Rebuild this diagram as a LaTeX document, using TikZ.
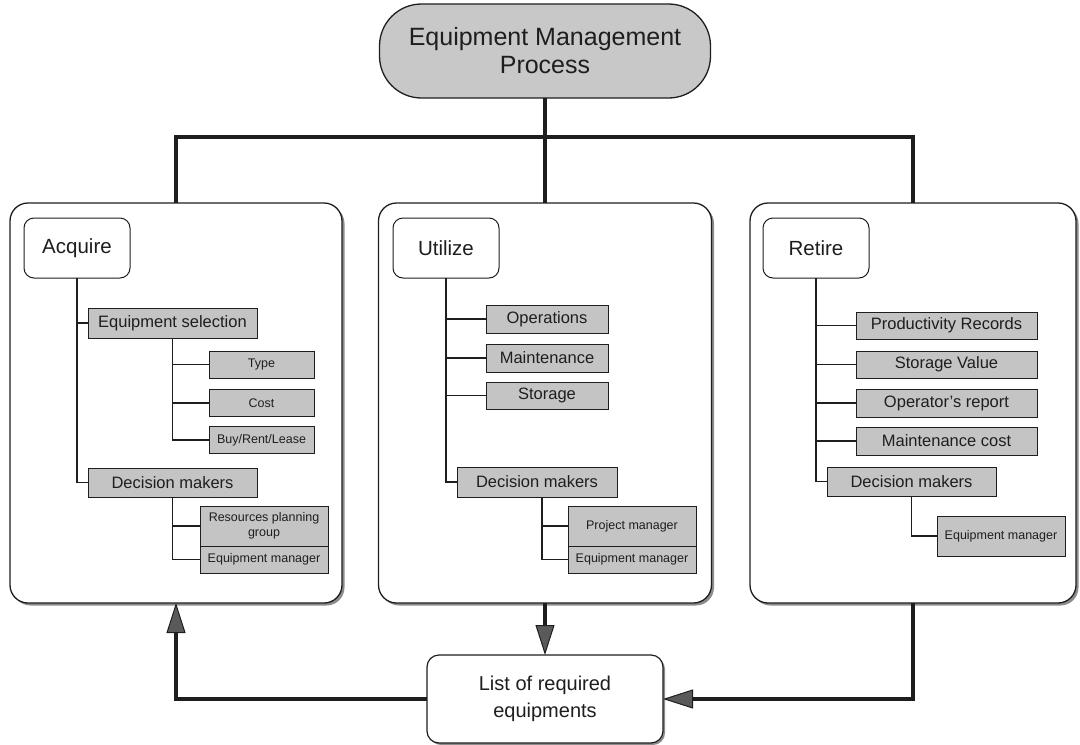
\documentclass[tikz,border=0pt]{standalone}
\usepackage{fontspec}
\setmainfont{Liberation Sans}
\usetikzlibrary{arrows.meta,shadows}
\definecolor{boxgray}{HTML}{C4C4C4}
\definecolor{pillgray}{HTML}{C8C8C8}
\definecolor{ink}{HTML}{1E1E1E}
\definecolor{shadowgray}{HTML}{8C8C8C}
\definecolor{tipfill}{HTML}{5A5A5A}

\begin{document}
\begin{tikzpicture}[x=1pt,y=-1pt,
  every node/.style={inner sep=0pt, outer sep=0pt, text=ink, align=center},
  size/.style 2 args={minimum width=#1, minimum height=#2},
  title/.style={draw=ink, line width=1.3pt, fill=pillgray, rounded corners=42pt,
    font=\fontsize{25}{28}\selectfont},
  stage/.style={draw=ink, line width=1.3pt, fill=white, rounded corners=18pt,
    general shadow={fill=shadowgray, shadow xshift=2.5pt, shadow yshift=-2.5pt}},
  head/.style={draw=ink, line width=1pt, fill=white, rounded corners=10pt,
    font=\fontsize{20.5}{24}\selectfont},
  result/.style={draw=ink, line width=1.2pt, fill=white, rounded corners=12pt,
    font=\fontsize{20}{27}\selectfont,
    general shadow={fill=shadowgray, shadow xshift=2pt, shadow yshift=-2pt}},
  item/.style={draw=ink, line width=1pt, fill=boxgray},
  bigitem/.style={item, font=\fontsize{16.5}{19}\selectfont},
  smallitem/.style={item, font=\fontsize{12.5}{14.5}\selectfont},
  link/.style={draw=ink, line width=1.5pt},
  trunk/.style={draw=ink, line width=4pt},
  flow/.style={trunk, -{Triangle[length=30pt, width=19pt, line width=1pt, fill=tipfill]}},
  ]
\useasboundingbox (0,0) rectangle (1080,745);

% top of the process
\node[title, size={331}{94}] (top) at (545,51) {Equipment Management\\Process};
\coordinate (hub) at (545,137);

% the three stages
\node[stage, size={332}{400}] (acq) at (176,403) {};
\node[stage, size={333}{400}] (uti) at (545,403) {};
\node[stage, size={326}{400}] (ret) at (913,403) {};

\draw[trunk] (top.south) -- (hub);
\draw[trunk] (acq.north) |- (hub) -| (ret.north);
\draw[trunk] (hub) -- (uti.north);

% Acquire
\node[head, size={106}{60}] (hA) at (77,248) {Acquire};
\node[bigitem, size={169}{30}] (esel) at (172.5,323) {Equipment selection};
\node[smallitem, size={105}{27}] (type) at (261.5,364.5) {Type};
\node[smallitem, size={105}{27}] (cost) at (261.5,403) {Cost};
\node[smallitem, size={105}{27}] (brl) at (261.5,440) {Buy/Rent/Lease};
\node[bigitem, size={169}{29}] (dmA) at (172.5,482.5) {Decision makers};
\node[smallitem, size={128}{40}] (rpg) at (264,526) {Resources planning\\group};
\node[smallitem, size={128}{27}] (emA) at (264,559.5) {Equipment manager};

\draw[link] (hA.south) |- (esel.west);
\draw[link] (hA.south) |- (dmA.west);
\draw[link] (esel.south) |- (type.west);
\draw[link] (esel.south) |- (cost.west);
\draw[link] (esel.south) |- (brl.west);
\draw[link] (dmA.south) |- (rpg.west);
\draw[link] (dmA.south) |- (emA.west);

% Utilize
\node[head, size={106}{60}] (hU) at (446,248) {Utilize};
\node[bigitem, size={122}{28}] (oper) at (547,319) {Operations};
\node[bigitem, size={122}{28}] (maint) at (547,358) {Maintenance};
\node[bigitem, size={122}{27}] (stor) at (547,395.5) {Storage};
\node[bigitem, size={160}{30}] (dmU) at (537,482) {Decision makers};
\node[smallitem, size={128}{40}] (pm) at (632,526) {Project manager};
\node[smallitem, size={128}{27}] (emU) at (632,559.5) {Equipment manager};

\draw[link] (hU.south) |- (oper.west);
\draw[link] (hU.south) |- (maint.west);
\draw[link] (hU.south) |- (stor.west);
\draw[link] (hU.south) |- (dmU.west);
\draw[link] ([xshift=5pt]dmU.south) |- (pm.west);
\draw[link] ([xshift=5pt]dmU.south) |- (emU.west);

% Retire
\node[head, size={106}{60}] (hR) at (816,248) {Retire};
\node[bigitem, size={181}{27}] (prod) at (946.5,325.5) {Productivity Records};
\node[bigitem, size={181}{27}] (sval) at (946.5,364.5) {Storage Value};
\node[bigitem, size={181}{28}] (orep) at (946.5,403) {Operator's report};
\node[bigitem, size={181}{28}] (mcost) at (946.5,441) {Maintenance cost};
\node[bigitem, size={169}{29}] (dmR) at (911.5,481.5) {Decision makers};
\node[smallitem, size={128}{40}] (emR) at (1001,536) {Equipment manager};

\draw[link] (hR.south) |- (prod.west);
\draw[link] (hR.south) |- (sval.west);
\draw[link] (hR.south) |- (orep.west);
\draw[link] (hR.south) |- (mcost.west);
\draw[link] (hR.south) |- (dmR.west);
\draw[link] (dmR.south) |- (emR.west);

% feedback loop through the list
\node[result, size={236}{88}] (list) at (545,699) {List of required\\equipments};
\draw[flow] (uti.south) -- (list.north);
\draw[flow] (list.west) -| (acq.south);
\draw[flow] (ret.south) |- (list.east);
\end{tikzpicture}
\end{document}
